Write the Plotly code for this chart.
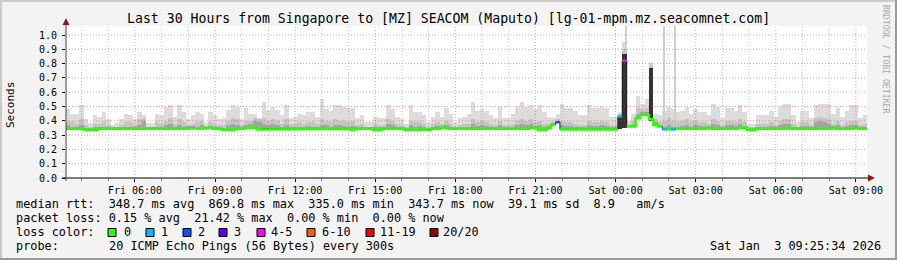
import pandas as pd
import plotly.graph_objects as go

# ---------------- data ----------------
T_START = "2026-01-02 03:25"
T_END = "2026-01-03 09:25"
N_BINS = 180  # 10-minute steps over 30 hours

median = [
    .345, .345, .345, .345, .338, .338, .338, .345, .345, .345, .345, .345, .345, .345, .345, .345,
    .345, .340, .345, .345, .345, .345, .345, .345, .345, .345, .345, .350, .350, .345, .345, .352,
    .352, .345, .345, .338, .338, .338, .345, .345, .352, .352, .352, .340, .345, .345, .345, .345,
    .345, .345, .345, .345,
    .345, .345, .345, .345, .345, .345, .345, .345, .345, .345, .345, .345, .338, .345, .345, .345,
    .345, .338, .338, .345, .345, .345, .345, .345, .338, .338, .338, .338, .338, .338, .345, .345,
    .352, .352, .345, .345, .345, .345, .345, .345, .345, .345, .345, .345, .345, .345, .345, .345,
    .345, .345, .345, .345, .352, .352, .338, .338, .352, .372, .390,
    .340, .340, .340, .340, .340, .340, .340, .340, .340, .340, .340, .340, .340,
    .430, .820, .360, .360, .420, .440, .440, .410, .370, .360, .340, .340, .340,
    .345, .345, .345, .345, .345, .345, .345, .352, .345, .345, .345, .345, .345, .345, .352, .352,
    .338, .338, .345, .345, .345, .345, .345, .345, .345, .352, .345, .345, .345, .345, .345, .345,
    .345, .345, .345, .352, .345, .345, .345, .345, .352, .345, .345,
]

smoke_max = [
    .48, .45, .45, .51, .41, .385, .44, .43, .46, .41, .37, .385, .41, .45, .44, .41,
    .46, .44, .385, .385, .45, .44, .50, .51, .43, .51, .46, .41, .44, .46, .45, .385,
    .46, .44, .41, .42, .475, .51, .50, .41, .49, .45, .45, .42, .53, .475, .50, .475,
    .44, .51, .42, .43,
    .45, .44, .46, .46, .43, .55, .48, .47, .51, .51, .50, .49, .49, .42, .44, .39,
    .39, .43, .42, .42, .51, .48, .43, .41, .38, .51, .46, .46, .44, .39, .43, .46,
    .43, .49, .45, .39, .42, .43, .45, .53, .47, .48, .47, .44, .42, .50, .42, .42,
    .45, .50, .53, .50, .51, .48, .51, .46, .43, .42, .45, .52, .49, .49, .47, .44,
    .44, .51, .49, .49, .50, .49, .43, .43, .46, .95, .40, .45, .57, .52, .55, .81,
    .45, .44, .47, .50, .48, .46, .47, .50, .45, .48, .46, .46, .44, .52, .50, .42,
    .49, .49, .47, .51, .46, .38, .38, .44, .44, .44, .47, .43, .50, .52, .52, .44,
    .39, .47, .47, .42, .51, .52, .52, .52, .45, .49, .43, .47, .51, .51, .42, .44,
]

smoke_mid = [
    .40, .39, .38, .41, .37, .36, .38, .38, .39, .37, .355, .36, .37, .39, .39, .37,
    .41, .42, .36, .36, .39, .38, .40, .42, .38, .41, .39, .37, .38, .39, .40, .36,
    .39, .38, .37, .37, .40, .42, .41, .37, .40, .40, .42, .41, .42, .40, .41, .40,
    .38, .41, .38, .38,
    .39, .38, .39, .39, .38, .41, .40, .39, .41, .40, .40, .39, .40, .37, .38, .36,
    .36, .38, .37, .37, .41, .40, .38, .37, .355, .40, .39, .39, .38, .36, .38, .39,
    .38, .40, .38, .36, .37, .38, .38, .41, .39, .40, .39, .38, .37, .40, .37, .37,
    .38, .40, .41, .40, .41, .39, .40, .38, .38, .39, .41, .40, .39, .39, .38, .37,
    .37, .40, .39, .39, .40, .39, .37, .37, .45, .90, .37, .40, .49, .48, .49, .79,
    .41, .39, .40, .42, .40, .39, .40, .41, .39, .40, .39, .39, .38, .41, .40, .37,
    .40, .40, .39, .41, .39, .355, .355, .38, .38, .38, .39, .37, .40, .41, .41, .38,
    .36, .39, .39, .37, .42, .43, .42, .41, .38, .40, .37, .39, .40, .40, .37, .38,
]

smoke_dark = [
    .37, .36, .36, .37, .35, .35, .36, .36, .36, .355, .35, .35, .355, .36, .36, .355,
    .37, .40, .35, .35, .36, .36, .37, .38, .36, .37, .36, .36, .365, .36, .37, .355,
    .365, .36, .355, .35, .37, .38, .37, .355, .37, .375, .40, .39, .38, .37, .375, .37,
    .36, .37, .36, .36,
    .36, .36, .365, .36, .36, .37, .37, .36, .37, .37, .365, .36, .365, .355, .36, .35,
    .35, .355, .355, .355, .375, .37, .36, .355, .345, .37, .36, .365, .36, .35, .36, .365,
    .365, .37, .36, .35, .355, .36, .36, .375, .365, .37, .365, .36, .355, .37, .355, .355,
    .36, .37, .38, .37, .375, .365, .37, .36, .365, .38, .40, .37, .365, .365, .36, .355,
    .355, .37, .365, .365, .37, .365, .355, .355, .44, .87, .365, .38, .45, .46, .46, .77,
    .39, .37, .36, .37, .36, .36, .365, .37, .36, .37, .365, .365, .365, .375, .37, .355,
    .37, .37, .365, .375, .365, .345, .345, .36, .36, .36, .365, .355, .37, .38, .38, .36,
    .35, .365, .365, .355, .39, .40, .39, .38, .36, .37, .355, .365, .37, .37, .355, .36,
]

# very dark core of the smoke during the outage spikes
core_times = ["2026-01-03 00:10", "2026-01-03 00:20", "2026-01-03 01:20"]
core_lo = [0.34, 0.35, 0.40]
core_hi = [0.43, 0.87, 0.77]

# thin single-sample streaks of high round-trip times
streak_times = ["2026-01-03 00:23", "2026-01-03 01:48", "2026-01-03 02:13"]
streak_lo = [0.87, 0.36, 0.36]
streak_hi = [1.20, 1.20, 1.20]

# steps whose median is coloured by packet loss (bin index -> loss class); all others are "0"
loss_steps = {110: "2", 124: "1", 125: "4-5", 134: "1", 136: "1"}

loss_labels = ["0", "1", "2", "3", "4-5", "6-10", "11-19", "20/20"]
loss_colors = ["#26ff00", "#00b8ff", "#0059ff", "#5e00ff", "#ff00ff", "#ff5e00", "#ff0000", "#a10000"]

y_ticks = [0.0, 0.1, 0.2, 0.3, 0.4, 0.5, 0.6, 0.7, 0.8, 0.9, 1.0]

title = "Last 30 Hours from Singapore to [MZ] SEACOM (Maputo) [lg-01-mpm.mz.seacomnet.com]"
row_rtt = "median rtt:  348.7 ms avg  869.8 ms max  335.0 ms min  343.7 ms now  39.1 ms sd  8.9   am/s"
row_loss = "packet loss: 0.15 % avg  21.42 % max  0.00 % min  0.00 % now"
probe_text = "20 ICMP Echo Pings (56 Bytes) every 300s"
stamp = "Sat Jan  3 09:25:34 2026"

for arr in (median, smoke_max, smoke_mid, smoke_dark):
    assert len(arr) == N_BINS, len(arr)

# ---------------- geometry ----------------
W, H = 897, 260
L, R, T, B = 66, 867, 26, 178
Y_TOP = (B - T) / 143.0
MONO = "DejaVu Sans Mono"


def px(x):
    return (x - L) / (R - L)


def py(y):
    return (B - y) / (B - T)


starts = pd.date_range(T_START, periods=N_BINS, freq="10min")
ends = starts + pd.Timedelta(minutes=10)
centers = starts + pd.Timedelta(minutes=5)
BW = 600000  # bar width in ms

fig = go.Figure()


def smoke(values, color):
    fig.add_trace(go.Bar(
        x=centers, y=[v - m for v, m in zip(values, median)], base=median,
        width=BW, marker=dict(color=color, line=dict(width=0)),
        hoverinfo="skip", showlegend=False))


smoke(smoke_max, "#dcdcdc")
fig.add_trace(go.Bar(
    x=pd.to_datetime(streak_times), y=[h - l for h, l in zip(streak_hi, streak_lo)], base=streak_lo,
    width=300000, marker=dict(color="#cfcfcf", line=dict(width=0)),
    hoverinfo="skip", showlegend=False))
smoke(smoke_mid, "#c4c4c4")
smoke(smoke_dark, "#a4a4a4")
fig.add_trace(go.Bar(
    x=pd.to_datetime(core_times), y=[h - l for h, l in zip(core_hi, core_lo)], base=core_lo,
    width=BW, marker=dict(color="#333333", line=dict(width=0)),
    hoverinfo="skip", showlegend=False))

# thin dark median line (shows the vertical jumps between loss classes)
edges = list(starts) + [pd.Timestamp(T_END)]
med_ext = median + [median[-1]]
fig.add_trace(go.Scatter(x=edges, y=med_ext, mode="lines", line=dict(color="#202020", width=1, shape="hv"),
                         hoverinfo="skip", showlegend=False))

# coloured median: one broken line per loss class
for cls, col in zip(loss_labels, loss_colors):
    xs, ys = [], []
    prev = False
    for i in range(N_BINS):
        c = loss_steps.get(i, "0")
        if c == cls:
            xs += [starts[i], ends[i]]
            ys += [median[i], median[i]]
            prev = True
        elif prev:
            xs.append(None)
            ys.append(None)
            prev = False
    if xs:
        fig.add_trace(go.Scatter(x=xs, y=ys, mode="lines", line=dict(color=col, width=2.5),
                                 connectgaps=False, hoverinfo="skip", showlegend=False))

fig.update_layout(
    width=W, height=H,
    margin=dict(l=L, r=W - R, t=T, b=H - B, pad=0),
    paper_bgcolor="#f3f3f3", plot_bgcolor="#ffffff",
    barmode="overlay", bargap=0,
    font=dict(family=MONO, size=10, color="#000000"),
    showlegend=False,
    xaxis=dict(
        range=[T_START, T_END], type="date",
        tick0="2026-01-02 06:00", dtick=3 * 3600000, tickformat="%a %H:%M",
        showgrid=False, ticks="outside", ticklen=3, tickcolor="#000000",
        minor=dict(dtick=3600000, tick0="2026-01-02 04:00", showgrid=False,
                   ticks="outside", ticklen=2, tickcolor="#777777"),
        showline=False, zeroline=False, fixedrange=True,
        tickfont=dict(family=MONO, size=10, color="#000000"),
    ),
    yaxis=dict(
        range=[0, Y_TOP], tickmode="array", tickvals=y_ticks, tickformat=".1f",
        showgrid=False, ticks="outside", ticklen=3, tickcolor="#000000",
        showline=False, zeroline=False, fixedrange=True,
        tickfont=dict(family=MONO, size=10, color="#000000"),
        ticklabelstandoff=3,
    ),
)

shapes = []
# rrdtool draws its grid on top of the data
grid_major = "rgba(240,70,70,0.55)"
grid_minor = "rgba(140,140,140,0.5)"
DOTS = "1px,2px"
for yv in y_ticks[1:]:
    shapes.append(dict(type="line", xref="paper", yref="y", x0=0, x1=1, y0=yv, y1=yv, layer="above",
                       line=dict(color=grid_major, width=1, dash=DOTS)))
majors = set(pd.date_range("2026-01-02 06:00", T_END, freq="3h"))
for t in pd.date_range("2026-01-02 04:00", T_END, freq="1h"):
    col = grid_major if t in majors else grid_minor
    shapes.append(dict(type="line", xref="x", yref="paper", x0=t, x1=t, y0=0, y1=1, layer="above",
                       line=dict(color=col, width=1, dash=DOTS)))

# frame of the picture (rrdtool style shading)
shapes.append(dict(type="rect", xref="paper", yref="paper", x0=px(0), x1=px(W), y0=py(0), y1=py(2),
                   fillcolor="#cbcbcb", line=dict(width=0)))
shapes.append(dict(type="rect", xref="paper", yref="paper", x0=px(0), x1=px(2), y0=py(0), y1=py(H),
                   fillcolor="#cbcbcb", line=dict(width=0)))
shapes.append(dict(type="rect", xref="paper", yref="paper", x0=px(0), x1=px(W), y0=py(H - 2), y1=py(H),
                   fillcolor="#999999", line=dict(width=0)))
shapes.append(dict(type="rect", xref="paper", yref="paper", x0=px(W - 2), x1=px(W), y0=py(0), y1=py(H),
                   fillcolor="#999999", line=dict(width=0)))
# axes with arrows
shapes.append(dict(type="line", xref="paper", yref="paper", x0=px(62), x1=px(870), y0=py(178), y1=py(178),
                   line=dict(color="#000000", width=1)))
shapes.append(dict(type="line", xref="paper", yref="paper", x0=px(66), x1=px(66), y0=py(181), y1=py(22),
                   line=dict(color="#444444", width=1)))
shapes.append(dict(type="path", xref="paper", yref="paper",
                   path=f"M {px(868)},{py(174.5)} L {px(875)},{py(178)} L {px(868)},{py(181.5)} Z",
                   fillcolor="#8b1a1a", line=dict(width=0)))
shapes.append(dict(type="path", xref="paper", yref="paper",
                   path=f"M {px(62.5)},{py(25)} L {px(66)},{py(18)} L {px(69.5)},{py(25)} Z",
                   fillcolor="#8b1a1a", line=dict(width=0)))
# loss colour swatches
sw_x = [108, 146, 183, 219, 257, 307, 366, 430]
for x0, col in zip(sw_x, loss_colors):
    shapes.append(dict(type="rect", xref="paper", yref="paper", x0=px(x0), x1=px(x0 + 8),
                       y0=py(228.5), y1=py(236.5), fillcolor=col, line=dict(color="#000000", width=1)))
fig.update_layout(shapes=shapes)

LEG = 11.85


def text(s, x, y, size=LEG, anchor="left", color="#000000", angle=0, yanchor="middle"):
    fig.add_annotation(text=s, x=px(x), y=py(y), xref="paper", yref="paper", showarrow=False,
                       xanchor=anchor, yanchor=yanchor, textangle=angle, borderpad=0,
                       font=dict(family=MONO, size=size, color=color))


text(title, 448.5, 18.5, size=13.2, anchor="center")
text("Seconds", 10, 105, size=11, anchor="center", angle=-90)
text("RRDTOOL / TOBI OETIKER", 886, 59, size=8.2, anchor="center", color="#a8a8a8", angle=90)
text(row_rtt, 14.5, 204)
text(row_loss, 14.5, 218)
text("loss color:", 14.5, 232)
lab_x = [122.5, 159.5, 196.5, 233, 270, 320.5, 379, 442]
for s, x in zip(loss_labels, lab_x):
    text(s, x, 232)
text("probe:", 14.5, 246)
text(probe_text, 107.5, 246)
text(stamp, 882, 246, anchor="right")

fig.write_html("out.html")
